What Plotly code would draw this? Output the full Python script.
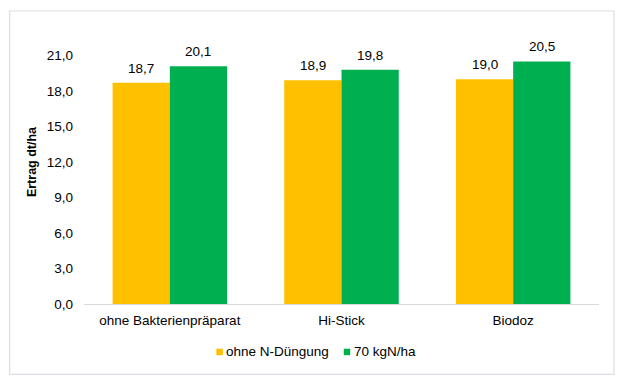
import plotly.graph_objects as go

categories = ["ohne Bakterienpräparat", "Hi-Stick", "Biodoz"]
series_names = ["ohne N-Düngung", "70 kgN/ha"]
ohne_n = [18.7, 18.9, 19.0]
mit_n = [20.1, 19.8, 20.5]
y_ticks = [0, 3, 6, 9, 12, 15, 18, 21]
colors = ["#FFC000", "#00B050"]

W, H = 623, 377
L, R, T, B = 84, 599.5, 19.5, 304

def px_x(p):
    return (p - L) / (R - L)

def px_y(p):
    return (B - p) / (B - T)

BARGAP = 0.333
half_bar_px = (R - L) / len(categories) * (1 - BARGAP) / 4

fig = go.Figure()
annotations = []
for i, (name, vals, col) in enumerate(zip(series_names, [ohne_n, mit_n], colors)):
    fig.add_trace(go.Bar(
        x=categories, y=vals, name=name, marker=dict(color=col, line=dict(width=0)),
        showlegend=False,
    ))
    shift = -half_bar_px if i == 0 else half_bar_px
    for c, v in zip(categories, vals):
        annotations.append(dict(
            x=c, y=v, xref="x", yref="y", text=f"{v:.1f}".replace(".", ","),
            showarrow=False, xshift=shift, yshift=5, yanchor="bottom", xanchor="center",
            font=dict(size=13.5, color="#000000"),
        ))

# legend (swatch + label) centred under the chart
leg_y = px_y(352)
leg_items = [(216.5, 225), (344, 353)]
shapes = [dict(type="rect", xref="paper", yref="paper",
               x0=px_x(9.5), x1=px_x(614.5), y0=px_y(374.5), y1=px_y(10.5),
               line=dict(color="#D9DDE8", width=1.2), fillcolor="rgba(0,0,0,0)", layer="below")]
for (sx, tx), name, col in zip(leg_items, series_names, colors):
    shapes.append(dict(type="rect", xref="paper", yref="paper",
                       x0=px_x(sx), x1=px_x(sx + 6.5), y0=px_y(355.3), y1=px_y(348.8),
                       line=dict(width=0), fillcolor=col))
    annotations.append(dict(x=px_x(tx), y=leg_y, xref="paper", yref="paper", text=name,
                            showarrow=False, xanchor="left", yanchor="middle",
                            font=dict(size=13.5, color="#000000"), borderpad=0))

fig.update_layout(
    width=W, height=H,
    margin=dict(l=L, r=W - R, t=T, b=H - B, autoexpand=False),
    paper_bgcolor="white", plot_bgcolor="white",
    separators=",.",
    font=dict(family="Liberation Sans, Arial, sans-serif", size=13.5, color="#000000"),
    barmode="group", bargap=BARGAP, bargroupgap=0,
    showlegend=False,
    xaxis=dict(showline=True, linecolor="#D9D9D9", linewidth=1, ticks="", showgrid=False,
               tickfont=dict(size=13.5), ticklabelstandoff=4),
    yaxis=dict(range=[0, 24], tickvals=y_ticks, tickformat=".1f", showgrid=False,
               showline=False, zeroline=False, ticks="", tickfont=dict(size=13.5),
               ticklabelstandoff=10,
               title=dict(text="<b>Ertrag dt/ha</b>", font=dict(size=12.5), standoff=7)),
    shapes=shapes,
    annotations=annotations,
)

fig.write_html("out.html", config={"displayModeBar": False},
               post_script="document.body.style.margin='0';document.body.style.overflow='hidden';")
